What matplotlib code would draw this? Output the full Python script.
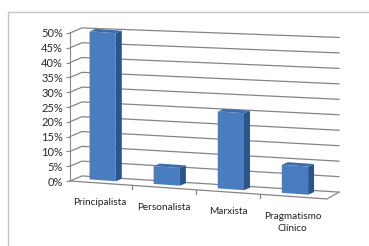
import numpy as np
import matplotlib
matplotlib.use("Agg")
import matplotlib.pyplot as plt
from matplotlib.transforms import Affine2D
from matplotlib.patches import Polygon, Rectangle

categories = ["Principalista", "Personalista", "Marxista", "Pragmatismo\nClínico"]
values = [50, 6, 26, 9.5]
yticks = [0, 5, 10, 15, 20, 25, 30, 35, 40, 45, 50]
ytick_labels = [f"{v}%" for v in yticks]

W, H = 369, 246
fig = plt.figure(figsize=(W / 100, H / 100), dpi=100)
fig.patch.set_facecolor("white")

# outer chart border
fig.add_artist(Rectangle((8 / W, -0.1), 1.2, 1.1 - 12 / H, transform=fig.transFigure,
                         fill=False, ec="#c3c3c3", lw=1.0))

ax = fig.add_axes([70 / W, 65 / H, 257 / W, 148 / H])
xmin, xmax = -0.47, 3.54
ax.set_xlim(xmin, xmax)
ax.set_ylim(0, 50)
ax.patch.set_visible(False)
for s in ["top", "right", "bottom"]:
    ax.spines[s].set_visible(False)
ax.spines["left"].set_color("#8a8a8a")
ax.spines["left"].set_linewidth(0.8)
ax.set_xticks([])
ax.set_yticks(yticks)
ax.set_yticklabels(ytick_labels, family="Lato", fontsize=8, color="#2a2a2a")
ax.tick_params(axis="y", length=3, width=0.8, color="#8a8a8a", pad=2)

fig.canvas.draw()
x0, y0 = ax.transAxes.transform((0, 0))
skew = Affine2D().translate(-x0, -y0).skew_deg(0, -4.0).translate(x0, y0)
T = ax.transData + skew

# depth vectors in data units
Dx, Dy = 0.187, 2.0        # wall depth
bx, by = 0.093, 1.0        # bar depth
fx, fy = 0.04, 1.0         # bar front offset from floor front
grid_c = "#858585"
persp = 0.045              # slight perspective spread at the far right

# left wall + back wall gridlines
for v in yticks:
    ax.plot([xmin, xmin + Dx, xmax + Dx], [v, v + Dy, v * (1 + persp) + Dy + 0.6],
            color=grid_c, lw=0.9, transform=T, clip_on=False, zorder=1)
# floor front edge and right edge
ax.plot([xmin, xmax, xmax + Dx], [0, 0, Dy + 0.6], color=grid_c, lw=0.9, transform=T,
        clip_on=False, zorder=1)
# category ticks on floor
for t in [0.5, 1.5, 2.5]:
    ax.plot([t, t], [0, -1.4], color=grid_c, lw=0.9, transform=T, clip_on=False, zorder=1)

# bars
xs = np.arange(len(categories))
bw = 0.41
bars = ax.bar(xs + fx, values, width=bw, bottom=fy, color="#4a7dc0", zorder=3)
for p in bars.patches:
    p.set_transform(T)
    p.set_clip_on(False)
for x, v in zip(xs, values):
    l = x + fx - bw / 2
    r = x + fx + bw / 2
    top = fy + v
    side = Polygon([[r, fy], [r + bx, fy + by], [r + bx, top + by], [r, top]], closed=True,
                   fc="#2d5489", ec="none", transform=T, clip_on=False, zorder=2)
    topf = Polygon([[l, top], [r, top], [r + bx, top + by], [l + bx, top + by]], closed=True,
                   fc="#3d6cab", ec="none", transform=T, clip_on=False, zorder=2)
    ax.add_patch(side)
    ax.add_patch(topf)

# category labels
for x, lab in zip(xs, categories):
    ax.text(x, -5.2, lab, ha="center", va="top", family="Lato", fontsize=7.2,
            color="#222222", linespacing=1.5, transform=T, clip_on=False)

fig.savefig("out.png", dpi=100, facecolor="white")
